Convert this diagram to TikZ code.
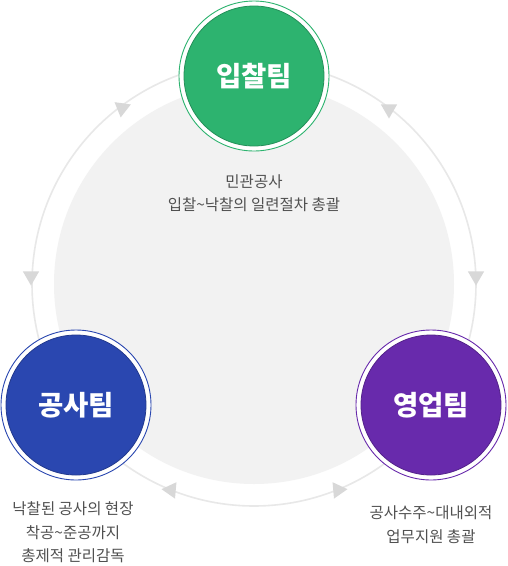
\documentclass[tikz,border=0pt]{standalone}
\usepackage{fontspec}
\usetikzlibrary{shapes.geometric}
\newfontfamily\kr{Noto Sans CJK KR}
\definecolor{cgreen}{RGB}{45,179,111}
\definecolor{cblue}{RGB}{42,71,176}
\definecolor{cpurple}{RGB}{104,42,172}
\definecolor{disc}{RGB}{242,242,242}
\definecolor{ringc}{RGB}{232,232,232}
\definecolor{tric}{RGB}{216,216,216}
\definecolor{desc}{RGB}{80,80,80}
\tikzset{
  team/.style={circle, minimum size=140pt, inner sep=0pt, fill=#1, draw=#1!80!black, line width=0.8pt,
    text=white, font={\kr\bfseries\fontsize{27.5}{32}\selectfont}},
  halo/.style={circle, minimum size=150pt, inner sep=0pt, fill=white, draw=#1, line width=0.9pt},
  tri/.style={regular polygon, regular polygon sides=3, shape border rotate=180, fill=tric,
    minimum size=19pt, inner sep=0pt},
  desctext/.style={align=center, text=desc, font={\kr\fontsize{15.5}{23.5}\selectfont}, inner sep=0pt}
}
\begin{document}
\begin{tikzpicture}[x=1pt,y=-1pt]
\useasboundingbox (0,0) rectangle (507,566);
\fill[white] (0,0) rectangle (507,566);
\coordinate (c) at (254,284);
\fill[disc] (c) circle[radius=200pt];
\draw[ringc, line width=1.6pt] (c) circle[radius=222pt];
% arrows on the ring
\node[tri, rotate=-8] (a1) at (122,108) {};
\node[tri] (a2) at (389,109) {};
\node[tri] (a3) at (31,276) {};
\node[tri] (a4) at (476,276) {};
\node[tri, rotate=25] (a5) at (171,490) {};
\node[tri, rotate=-25] (a6) at (338,490) {};
% team circles
\node[halo=cgreen] (h1) at (254,76) {};
\node[team=cgreen] (bid) at (254,76) {입찰팀};
\node[halo=cblue] (h2) at (76,405) {};
\node[team=cblue] (build) at (76,405) {공사팀};
\node[halo=cpurple] (h3) at (431,405) {};
\node[team=cpurple] (sales) at (431,405) {영업팀};
% descriptions
\node[desctext] (d1) at (254,193) {민관공사\\입찰\textasciitilde 낙찰의 일련절차 총괄};
\node[desctext] (d2) at (73,532.5) {낙찰된 공사의 현장\\착공\textasciitilde 준공까지\\총제적 관리감독};
\node[desctext] (d3) at (431,524.5) {공사수주\textasciitilde 대내외적\\업무지원 총괄};
\end{tikzpicture}
\end{document}
